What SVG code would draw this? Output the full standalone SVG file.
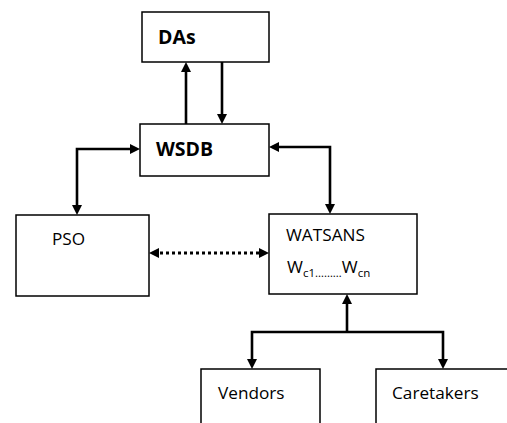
<svg xmlns="http://www.w3.org/2000/svg" width="507" height="423" viewBox="0 0 507 423">
<style>
.box{fill:#fff;stroke:#000;stroke-width:1.5}
.t{font-family:"Open Sans","Liberation Sans",sans-serif;font-size:17.2px;fill:#000}
.b{font-weight:bold;font-size:19.5px}
.s{font-size:11.5px}
.c{fill:none;stroke:#000;stroke-width:2.6}
.d{fill:none;stroke:#000;stroke-width:3;stroke-dasharray:3 3}
</style>
<defs>
<marker id="ah" viewBox="0 0 10 10" refX="5" refY="5" markerWidth="10" markerHeight="10" markerUnits="userSpaceOnUse" orient="auto-start-reverse">
<path d="M0,0 L10,5 L0,10 z" fill="#000"/>
</marker>
</defs>
<rect width="507" height="423" fill="#fff"/>
<g id="DAs"><rect class="box" x="142" y="12" width="127" height="50"/><text class="t b" x="158" y="44">DAs</text></g>
<g id="WSDB"><rect class="box" x="140" y="124" width="129" height="52"/><text class="t b" x="156" y="156">WSDB</text></g>
<g id="PSO"><rect class="box" x="16" y="215" width="133" height="81"/><text class="t" x="52" y="245">PSO</text></g>
<g id="WATSANS"><rect class="box" x="269" y="214" width="148" height="80"/><text class="t" x="286" y="241">WATSANS</text><text class="t" x="287" y="273">W<tspan class="s" dy="4">c1………</tspan><tspan dy="-4">W</tspan><tspan class="s" dy="4">cn</tspan></text></g>
<g id="Vendors"><path class="box" d="M201,430 V369 H320 V430"/><text class="t" x="218" y="399">Vendors</text></g>
<g id="Caretakers"><path class="box" d="M376,430 V369 H512"/><text class="t" x="392" y="399">Caretakers</text></g>
<g id="connectors">
<path class="c" d="M186,124 V67" marker-end="url(#ah)"/>
<path class="c" d="M222,62 V119" marker-end="url(#ah)"/>
<path class="c" d="M135,149 H77 V210" marker-start="url(#ah)" marker-end="url(#ah)"/>
<path class="c" d="M274,147 H330 V209" marker-start="url(#ah)" marker-end="url(#ah)"/>
<path class="d" d="M154,253 H264" marker-start="url(#ah)" marker-end="url(#ah)"/>
<path class="c" d="M347,332 V299" marker-end="url(#ah)"/>
<path class="c" d="M252,364 V332 H443 V364" marker-start="url(#ah)" marker-end="url(#ah)"/>
</g>
</svg>
